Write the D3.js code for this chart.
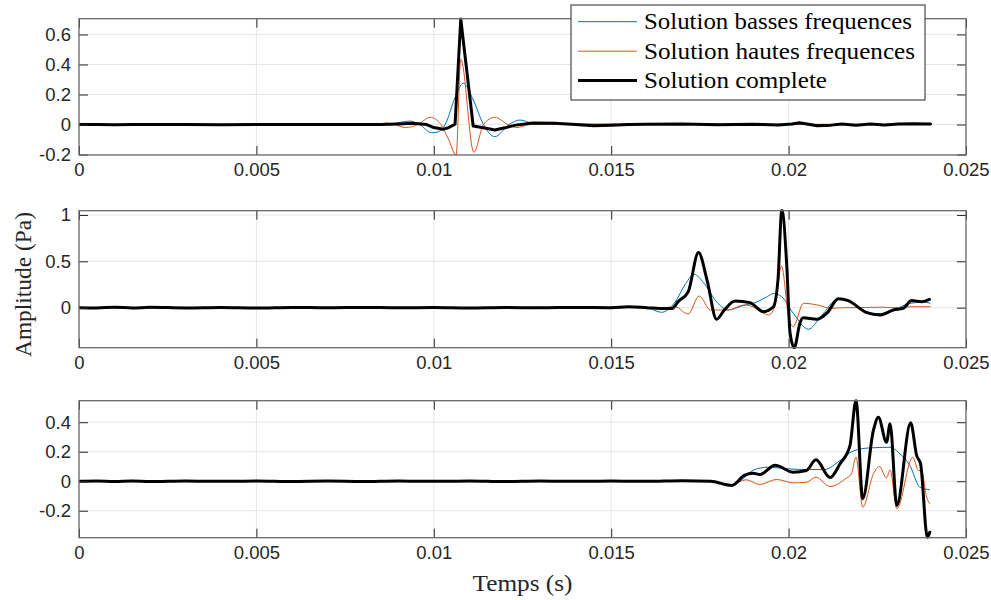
<!DOCTYPE html>
<html>
<head>
<meta charset="utf-8">
<script src="https://cdn.jsdelivr.net/npm/d3@7/dist/d3.min.js"></script>
<style>
  html, body { margin: 0; padding: 0; background: #ffffff; }
  svg { display: block; }
</style>
</head>
<body>
<svg id="chart" width="991" height="600"></svg>
<script>
// ---------------- DATA ----------------
const seriesNames = ["Solution basses frequences", "Solution hautes frequences", "Solution complete"];
const xTicks = [0, 0.005, 0.01, 0.015, 0.02, 0.025];
const xTickLabels = ["0", "0.005", "0.01", "0.015", "0.02", "0.025"];
const yTicks1 = [-0.2, 0, 0.2, 0.4, 0.6];
const yTickLabels1 = ["-0.2", "0", "0.2", "0.4", "0.6"];
const yTicks2 = [0, 0.5, 1];
const yTickLabels2 = ["0", "0.5", "1"];
const yTicks3 = [-0.2, 0, 0.2, 0.4];
const yTickLabels3 = ["-0.2", "0", "0.2", "0.4"];
const yRange1 = [-0.203, 0.705];
const yRange2 = [-0.432, 1.046];
const yRange3 = [-0.383, 0.546];

// Panel 1 (time s, amplitude Pa)
const p1Low = [[0,0],[0.0085,0],[0.0088,0.004],[0.00933,0.023],[0.0096,0.0],[0.00994,-0.055],[0.01013,-0.048],[0.01032,0.0],[0.0106,0.18],[0.01083,0.275],[0.0111,0.17],[0.0114,0.0],[0.01172,-0.081],[0.01212,0.0],[0.01243,0.03],[0.0128,0.008],[0.0135,0.002],[0.024,0]];
const p1High = [[0,0],[0.0085,0],[0.00865,0.01],[0.0089,0.0],[0.0092,-0.02],[0.00955,0.0],[0.0099,0.048],[0.0102,0.0],[0.0104,-0.09],[0.01063,-0.203],[0.01076,0.435],[0.01113,-0.185],[0.0114,0.0],[0.01172,0.048],[0.01209,0.0],[0.01234,-0.02],[0.0127,0.0],[0.0135,0.003],[0.024,0]];
const p1Full = [[0,0],[0.0005,0.001],[0.001,-0.001],[0.0015,0.001],[0.002,0],[0.003,0.001],[0.004,-0.001],[0.005,0.0],[0.006,0.001],[0.007,0],[0.008,0.001],[0.0085,0.0],[0.009,0.004],[0.0094,0.008],[0.0098,0.0],[0.01,-0.02],[0.01026,-0.032],[0.0104,-0.022],[0.0106,0.002],[0.01076,0.703],[0.01111,-0.01],[0.0114,-0.022],[0.01172,-0.037],[0.012,-0.022],[0.0123,-0.004],[0.0128,0.01],[0.0134,0.008],[0.014,0.0],[0.0145,-0.008],[0.015,-0.004],[0.0155,0.0],[0.016,0.002],[0.017,0.003],[0.018,-0.002],[0.019,0.002],[0.0197,-0.003],[0.0201,0.004],[0.0203,0.012],[0.0206,0.0],[0.0208,-0.008],[0.0212,-0.004],[0.0215,0.003],[0.0219,-0.005],[0.0223,0.004],[0.0227,-0.003],[0.0231,0.003],[0.0235,0.006],[0.024,0.004]];

// Panel 2
const p2Low = [[0,0],[0.001,0.003],[0.002,-0.004],[0.003,0.003],[0.004,0],[0.005,0.002],[0.006,-0.002],[0.007,0.002],[0.008,0],[0.009,0.002],[0.01,-0.003],[0.011,0.002],[0.012,0],[0.013,0.003],[0.014,0],[0.015,0.004],[0.0155,0.01],[0.016,0.0],[0.01642,-0.05],[0.0168,0.06],[0.0171,0.26],[0.01734,0.36],[0.0176,0.27],[0.018,0.05],[0.0183,-0.025],[0.0187,0.02],[0.0191,0.06],[0.0194,0.12],[0.01957,0.152],[0.0198,0.12],[0.02013,-0.06],[0.02056,-0.233],[0.0209,-0.1],[0.0214,0.095],[0.0217,0.07],[0.0222,-0.045],[0.0226,-0.065],[0.023,-0.02],[0.0234,0.045],[0.0238,0.06],[0.024,0.047]];
const p2High = [[0,0],[0.015,0],[0.0165,0.0],[0.0168,0.01],[0.01717,-0.068],[0.01748,0.126],[0.0178,-0.025],[0.0183,-0.025],[0.01875,0.03],[0.0191,-0.007],[0.01943,-0.079],[0.0196,0.0],[0.0198,0.45],[0.02,-0.1],[0.02013,-0.205],[0.02042,0.047],[0.0208,0.03],[0.0212,-0.007],[0.0216,0.0],[0.022,0.0],[0.0226,0.005],[0.023,0.0],[0.0235,0.01],[0.024,0.01]];
const p2Full = [[0,0],[0.0005,-0.003],[0.001,0.005],[0.0015,-0.004],[0.002,0.004],[0.003,-0.003],[0.004,0.002],[0.005,-0.004],[0.006,0.003],[0.007,-0.002],[0.008,0.003],[0.009,-0.002],[0.01,0.002],[0.011,-0.003],[0.012,0.002],[0.013,-0.002],[0.014,0.003],[0.015,0.0],[0.0155,0.01],[0.016,0.0],[0.0165,-0.01],[0.0167,-0.01],[0.0169,0.07],[0.01717,0.17],[0.01746,0.594],[0.0177,0.3],[0.01797,-0.125],[0.0182,-0.02],[0.01849,0.072],[0.01891,0.054],[0.01929,-0.043],[0.01957,0.01],[0.0197,0.3],[0.01981,1.055],[0.01995,0.44],[0.02004,-0.27],[0.02016,-0.432],[0.02032,-0.165],[0.02041,-0.108],[0.02079,-0.125],[0.0211,-0.05],[0.0214,0.095],[0.02168,0.075],[0.0222,-0.054],[0.02258,-0.079],[0.02295,-0.025],[0.02323,-0.007],[0.02347,0.076],[0.02375,0.065],[0.02397,0.09]];

// Panel 3
const p3Low = [[0,0],[0.017,0.002],[0.0178,0.0],[0.0184,-0.022],[0.01863,0.0],[0.019,0.075],[0.0194,0.095],[0.02,0.084],[0.0205,0.079],[0.021,0.079],[0.02145,0.14],[0.02182,0.205],[0.02229,0.226],[0.02286,0.23],[0.02314,0.186],[0.02342,0.106],[0.0237,-0.04],[0.02398,-0.058]];
const p3High = [[0,0],[0.017,0.002],[0.0178,0.0],[0.0184,-0.022],[0.0188,0.01],[0.01919,-0.022],[0.01966,0.012],[0.02013,-0.011],[0.0205,-0.007],[0.02077,0.027],[0.02117,-0.036],[0.0216,0.016],[0.02177,0.05],[0.0219,0.163],[0.02209,-0.176],[0.02239,0.05],[0.02256,0.1],[0.02276,0.023],[0.02286,0.077],[0.02305,-0.187],[0.0235,0.163],[0.02366,0.073],[0.02375,0.07],[0.02389,-0.108],[0.02398,-0.153]];
const p3Full = [[0,0],[0.0005,0.002],[0.001,-0.002],[0.0015,0.002],[0.002,-0.002],[0.003,0.002],[0.004,-0.001],[0.005,0.002],[0.006,-0.002],[0.007,0.001],[0.008,-0.002],[0.009,0.002],[0.01,-0.001],[0.011,0.002],[0.012,-0.002],[0.013,0.002],[0.014,-0.001],[0.015,0.002],[0.016,-0.001],[0.017,0.003],[0.0178,0.0],[0.0184,-0.029],[0.01875,0.039],[0.0190,0.054],[0.01919,0.045],[0.01962,0.108],[0.02013,0.061],[0.0205,0.073],[0.02077,0.145],[0.02117,0.025],[0.02145,0.118],[0.02173,0.242],[0.0219,0.547],[0.02209,-0.119],[0.02239,0.344],[0.02253,0.434],[0.02276,0.264],[0.02286,0.389],[0.02305,-0.165],[0.02344,0.396],[0.02361,0.174],[0.02372,0.118],[0.02391,-0.38],[0.02398,-0.346]];

// ---------------- LAYOUT ----------------
const svg = d3.select("#chart");
const plotLeft = 79, plotRight = 966;
const panels = [
  { top: 18.7, bottom: 155, yRange: yRange1, yTicks: yTicks1, yLabels: yTickLabels1, low: p1Low, high: p1High, full: p1Full, fullCurve: d3.curveLinear },
  { top: 210.7, bottom: 347.7, yRange: yRange2, yTicks: yTicks2, yLabels: yTickLabels2, low: p2Low, high: p2High, full: p2Full, fullCurve: d3.curveMonotoneX },
  { top: 400.7, bottom: 537.7, yRange: yRange3, yTicks: yTicks3, yLabels: yTickLabels3, low: p3Low, high: p3High, full: p3Full, fullCurve: d3.curveMonotoneX }
];
const colLow = "#0072BD", colHigh = "#D95319", colFull = "#000000";
const tickFont = "'Liberation Sans', Arial, Helvetica, sans-serif";
const serifFont = "'Liberation Serif', 'Times New Roman', serif";

const x = d3.scaleLinear().domain([0, 0.025]).range([plotLeft, plotRight]);

panels.forEach((p, i) => {
  const y = d3.scaleLinear().domain(p.yRange).range([p.bottom, p.top]);
  const g = svg.append("g");

  // grid
  g.append("g").selectAll("line").data(xTicks).join("line")
    .attr("x1", d => x(d)).attr("x2", d => x(d))
    .attr("y1", p.top).attr("y2", p.bottom)
    .attr("stroke", "#e6e6e6").attr("stroke-width", 1);
  g.append("g").selectAll("line").data(p.yTicks).join("line")
    .attr("x1", plotLeft).attr("x2", plotRight)
    .attr("y1", d => y(d)).attr("y2", d => y(d))
    .attr("stroke", "#e6e6e6").attr("stroke-width", 1);

  // clip
  const clipId = "clip" + i;
  svg.append("clipPath").attr("id", clipId).append("rect")
    .attr("x", plotLeft).attr("y", p.top - 1.5)
    .attr("width", plotRight - plotLeft).attr("height", p.bottom - p.top + 3);

  const lineSmooth = d3.line().x(d => x(d[0])).y(d => y(d[1])).curve(d3.curveMonotoneX);
  const lineFull = d3.line().x(d => x(d[0])).y(d => y(d[1])).curve(p.fullCurve);

  const dg = g.append("g").attr("clip-path", `url(#${clipId})`);
  dg.append("path").datum(p.low).attr("d", lineSmooth)
    .attr("fill", "none").attr("stroke", colLow).attr("stroke-width", 1);
  dg.append("path").datum(p.high).attr("d", lineSmooth)
    .attr("fill", "none").attr("stroke", colHigh).attr("stroke-width", 1);
  dg.append("path").datum(p.full).attr("d", lineFull)
    .attr("fill", "none").attr("stroke", colFull).attr("stroke-width", 3)
    .attr("stroke-linejoin", "round").attr("stroke-linecap", "round");

  // axes
  const axB = d3.axisBottom(x).tickValues(xTicks).tickFormat((d, k) => xTickLabels[k]).tickSizeInner(-9).tickSizeOuter(0).tickPadding(8);
  const axT = d3.axisTop(x).tickValues(xTicks).tickFormat("").tickSizeInner(-9).tickSizeOuter(0);
  const axL = d3.axisLeft(y).tickValues(p.yTicks).tickFormat((d, k) => p.yLabels[k]).tickSizeInner(-9).tickSizeOuter(0).tickPadding(8);
  const axR = d3.axisRight(y).tickValues(p.yTicks).tickFormat("").tickSizeInner(-9).tickSizeOuter(0);

  const styleAxis = sel => {
    sel.select(".domain").remove();
    sel.selectAll(".tick line").attr("stroke", "#262626").attr("stroke-width", 1);
    sel.selectAll(".tick text").attr("fill", "#262626").attr("font-family", tickFont).attr("font-size", "18.5px");
  };
  g.append("g").attr("transform", `translate(0,${p.bottom})`).call(axB).call(styleAxis);
  g.append("g").attr("transform", `translate(0,${p.top})`).call(axT).call(styleAxis);
  g.append("g").attr("transform", `translate(${plotLeft},0)`).call(axL).call(styleAxis);
  g.append("g").attr("transform", `translate(${plotRight},0)`).call(axR).call(styleAxis);

  // box
  g.append("rect").attr("x", plotLeft).attr("y", p.top)
    .attr("width", plotRight - plotLeft).attr("height", p.bottom - p.top)
    .attr("fill", "none").attr("stroke", "#6a6a6a").attr("stroke-width", 1.3);
});

// axis titles
svg.append("text").attr("x", (plotLeft + plotRight) / 2).attr("y", 591)
  .attr("text-anchor", "middle").attr("font-family", serifFont).attr("font-size", "23px")
  .attr("textLength", 100).attr("lengthAdjust", "spacingAndGlyphs")
  .attr("fill", "#262626").text("Temps (s)");
svg.append("text").attr("transform", "translate(30.5,284.5) rotate(-90)")
  .attr("text-anchor", "middle").attr("font-family", serifFont).attr("font-size", "23px")
  .attr("textLength", 145).attr("lengthAdjust", "spacingAndGlyphs")
  .attr("fill", "#262626").text("Amplitude (Pa)");

// legend
const lg = svg.append("g");
lg.append("rect").attr("x", 571).attr("y", 5).attr("width", 354).attr("height", 95)
  .attr("fill", "#ffffff").attr("stroke", "#262626").attr("stroke-width", 1);
const legendItems = [
  { name: seriesNames[0], color: colLow, w: 1, len: 268 },
  { name: seriesNames[1], color: colHigh, w: 1, len: 271 },
  { name: seriesNames[2], color: colFull, w: 3, len: 183 }
];
const rowY = [21.7, 51.2, 80.5];
legendItems.forEach((it, k) => {
  lg.append("line").attr("x1", 578).attr("x2", 637).attr("y1", rowY[k]).attr("y2", rowY[k])
    .attr("stroke", it.color).attr("stroke-width", it.w);
  lg.append("text").attr("x", 644).attr("y", rowY[k] + 7.5)
    .attr("font-family", serifFont).attr("font-size", "23px").attr("fill", "#000")
    .attr("textLength", it.len).attr("lengthAdjust", "spacingAndGlyphs")
    .text(it.name);
});
</script>
</body>
</html>
